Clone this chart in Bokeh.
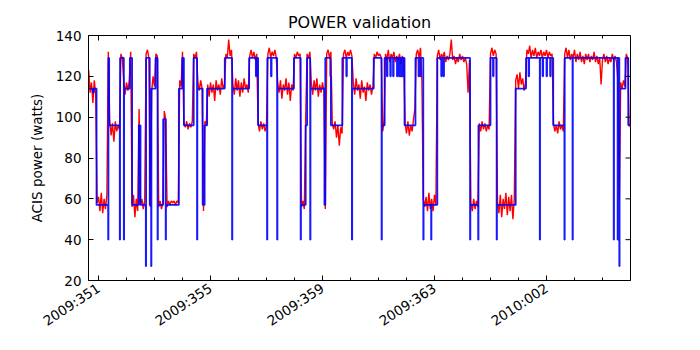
import math
from bokeh.plotting import figure
from bokeh.models import Range1d, FixedTicker
from bokeh.embed import file_html
from bokeh.resources import INLINE

# ---- data (day of year, 2009 continued: 366 = 2010:001) ----
x_major = [351, 355, 359, 363, 367]
x_minor = [352, 353, 354, 356, 357, 358, 360, 361, 362, 364, 365, 366, 368, 369]
x_labels = ["2009:351", "2009:355", "2009:359", "2009:363", "2010:002"]
y_ticks = [20, 40, 60, 80, 100, 120, 140]
x_lo, x_hi = 350.643, 370.0
y_lo, y_hi = 20, 140

# Telemetry (red): sampled every 0.05 day starting at 350.65
red_start = 350.65
red_step = 0.05
red_v = [
    123, 112, 117, 107, 118, 111, 58,
    61, 54, 63, 53, 60, 55, 62, 132, 99, 91, 97, 88, 98, 93, 96, 94, 131, 129, 118, 111,
    117, 113, 118, 132, 56, 62, 51, 60, 54, 104, 57, 60, 55, 59, 131, 133, 129, 56, 113, 120,
    115, 131, 130, 56, 59, 55, 58, 103, 99, 56, 59, 57, 59, 58, 59, 57, 59, 58, 118, 115,
    132, 97, 95, 98, 94, 97, 95, 98, 131, 129, 132, 117, 113, 118, 114, 54, 98, 96, 116, 110,
    117, 112, 116, 108, 118, 113, 116, 111, 119, 114, 116, 131, 129, 138, 130, 133, 116, 111, 119, 113,
    118, 110, 117, 112, 119, 114, 116, 112, 130, 133, 129, 132, 128, 131, 97, 93, 98, 94, 97, 93,
    96, 131, 134, 129, 132, 130, 133, 129, 117, 112, 118, 109, 116, 113, 119, 111, 117, 108, 116, 113,
    131, 129, 132, 130, 131, 56, 59, 55, 100, 131, 129, 132, 117, 111, 118, 113, 119, 110, 116, 112,
    117, 113, 55, 131, 133, 129, 132, 97, 94, 98, 90, 96, 86, 95, 92, 131, 133, 129, 132, 130,
    133, 130, 117, 111, 119, 113, 116, 109, 118, 112, 115, 108, 117, 113, 116, 111, 115, 131, 129, 132,
    130, 131, 129, 93, 98, 131, 128, 133, 127, 131, 129, 132, 127, 130, 128, 131, 126, 130, 128, 97,
    92, 98, 91, 96, 93, 99, 104, 131, 133, 129, 134, 118, 60, 56, 61, 54, 63, 55, 60, 54,
    62, 57, 130, 133, 128, 131, 129, 132, 127, 130, 128, 131, 138, 128, 130, 126, 129, 127, 131, 128,
    130, 127, 129, 126, 112, 128, 58, 54, 60, 55, 59, 56, 97, 93, 98, 94, 97, 93, 96, 94,
    131, 134, 130, 133, 131, 58, 53, 62, 51, 60, 55, 63, 52, 61, 54, 62, 50, 60, 118, 121,
    114, 122, 116, 119, 113, 117, 133, 131, 135, 129, 133, 130, 134, 129, 132, 130, 133, 129, 132, 130,
    133, 129, 132, 130, 131, 97, 93, 96, 92, 98, 94, 96, 93, 131, 134, 129, 133, 128, 131, 129,
    133, 127, 131, 128, 132, 127, 130, 126, 131, 128, 131, 127, 130, 128, 132, 127, 130, 126, 129, 116,
    128, 131, 127, 130, 126, 129, 127, 131, 128, 130, 127, 118, 60, 117, 114, 118, 115, 131, 129, 97,
    95,
]
red_t = [red_start + red_step * i for i in range(len(red_v))]

# Model (blue): step function, value holds from each time until the next
blue_t = [350.643, 350.80, 350.83, 350.93, 351.345, 351.355, 351.38, 351.76, 351.77, 351.905,
          351.915, 352.12, 352.20, 352.44, 352.50, 352.69, 352.70, 352.83, 352.88, 352.89,
          353.04, 353.11, 353.12, 353.31, 353.40, 353.41, 353.87, 353.99, 354.05, 354.40,
          354.52, 354.53, 354.72, 354.79, 354.88, 355.51, 355.77, 355.78, 356.38, 356.62,
          356.64, 356.70, 357.02, 357.03, 357.16, 357.18, 357.38, 357.39, 357.98, 358.22,
          358.23, 358.40, 358.45, 358.56, 358.57, 359.07, 359.10, 359.28, 359.30, 359.71,
          359.85, 359.87, 360.05, 360.06, 360.83, 361.11, 361.12, 361.22, 361.30, 361.32,
          361.42, 361.44, 361.52, 361.54, 361.66, 361.68, 361.73, 361.75, 361.77, 361.79,
          361.81, 361.83, 361.85, 361.87, 361.89, 361.91, 361.93, 362.32, 362.43, 362.45,
          362.49, 362.51, 362.60, 362.61, 362.88, 362.89, 363.10, 363.24, 363.26, 363.32,
          363.34, 364.27, 364.28, 364.56, 364.57, 365.00, 365.09, 365.11, 365.22, 365.23,
          365.90, 366.27, 366.36, 366.38, 366.76, 366.77, 366.86, 366.88, 367.00, 367.02,
          367.13, 367.15, 367.24, 367.64, 367.65, 367.93, 367.94, 369.40, 369.41, 369.54,
          369.55, 369.60, 369.61, 369.82, 369.92, 370.0]
blue_v = [114, 112, 114, 57, 40, 129, 96, 40, 129, 40,
          114, 129, 57, 96, 57, 27, 129, 57, 27, 114,
          129, 40, 57, 99, 40, 57, 114, 129, 96, 129,
          40, 114, 57, 96, 114, 129, 40, 114, 129, 120,
          129, 96, 40, 129, 120, 129, 40, 114, 129, 40,
          57, 96, 129, 40, 114, 57, 129, 120, 96, 129,
          120, 129, 40, 114, 129, 40, 96, 129, 120, 129,
          120, 129, 120, 129, 120, 129, 120, 129, 120, 129,
          120, 129, 120, 129, 120, 129, 96, 129, 120, 129,
          120, 129, 40, 57, 40, 57, 129, 120, 129, 120,
          129, 40, 57, 40, 96, 129, 120, 129, 40, 57,
          114, 129, 120, 129, 40, 129, 120, 129, 120, 129,
          120, 129, 96, 40, 129, 40, 129, 40, 129, 40,
          129, 27, 114, 129, 96, 96]

FONT = "DejaVu Sans"

p = figure(width=700, height=350, output_backend="svg", toolbar_location=None,
           x_range=Range1d(x_lo, x_hi), y_range=Range1d(y_lo, y_hi),
           title="POWER validation",
           min_border_left=88, min_border_right=70, min_border_top=35, min_border_bottom=70)
p.title.align = "center"
p.title.text_font = FONT
p.title.text_font_size = "16px"
p.title.text_font_style = "normal"
p.title.text_color = "black"
p.title.standoff = 8
p.xgrid.visible = False
p.ygrid.visible = False
p.outline_line_color = "black"
p.outline_line_alpha = 1.0
p.outline_line_width = 1
p.background_fill_color = "white"
p.border_fill_color = "white"

p.line(red_t, red_v, line_color="#ff0000", line_width=1.4)
p.step(blue_t, blue_v, mode="after", line_color="#0000ff", line_width=1.8, line_alpha=0.9)

# inward ticks on the top and right edges (markers clipped to the frame)
p.scatter(x_major, [y_hi] * len(x_major), marker="dash", angle=math.pi / 2,
          size=10, line_color="black", line_width=1)
p.scatter(x_minor, [y_hi] * len(x_minor), marker="dash", angle=math.pi / 2,
          size=6, line_color="black", line_width=1)
p.scatter([x_hi] * len(y_ticks), y_ticks, marker="dash", angle=0,
          size=10, line_color="black", line_width=1)

xa = p.xaxis[0]
xa.ticker = FixedTicker(ticks=x_major, minor_ticks=x_minor)
xa.major_label_overrides = {t: s for t, s in zip(x_major, x_labels)}
xa.major_label_orientation = 0.58
xa.major_label_text_font = FONT
xa.major_label_text_font_size = "13.5px"
xa.major_label_standoff = 6

ya = p.yaxis[0]
ya.ticker = FixedTicker(ticks=y_ticks, minor_ticks=[])
ya.axis_label = "ACIS power (watts)"
ya.axis_label_text_font = FONT
ya.axis_label_text_font_size = "13.5px"
ya.axis_label_text_font_style = "normal"
ya.axis_label_standoff = 8
ya.major_label_text_font = FONT
ya.major_label_text_font_size = "13.5px"
ya.major_label_standoff = 7

for ax in (xa, ya):
    ax.major_tick_in = 5
    ax.major_tick_out = 0
    ax.minor_tick_in = 3
    ax.minor_tick_out = 0
    ax.axis_line_color = "black"
    ax.major_tick_line_color = "black"
    ax.minor_tick_line_color = "black"
    ax.major_label_text_color = "black"
    ax.axis_label_text_color = "black"

open("out.html", "w").write(file_html(p, INLINE))
